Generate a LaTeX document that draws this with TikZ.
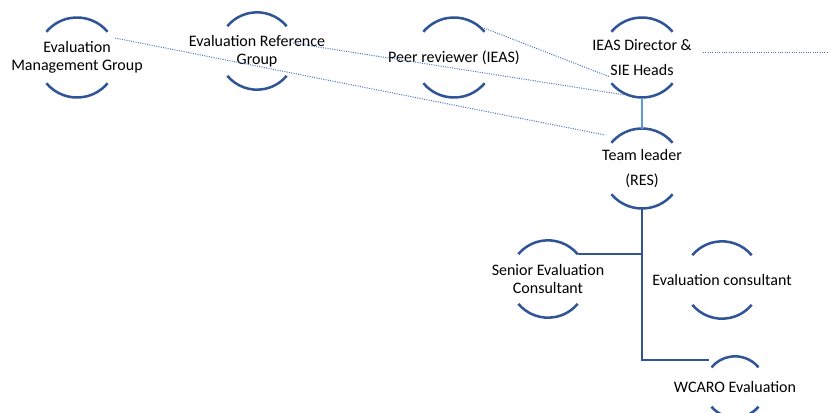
\documentclass[tikz,border=0pt]{standalone}
\usepackage{fontspec}
\setmainfont{Carlito}
\usepackage{xcolor}
\usetikzlibrary{positioning,calc}

\definecolor{arcblue}{HTML}{2F5597}
\definecolor{linkblue}{HTML}{5B9BD5}
\definecolor{dotblue}{HTML}{4472C4}

\tikzset{
    roletext/.style={align=center, font=\fontsize{12}{13.5}\selectfont, inner sep=0pt},
    roletall/.style={align=center, font=\fontsize{12}{18.5}\selectfont, inner sep=0pt},
    rolearc/.style={draw=arcblue, line width=1.9pt},
    treeline/.style={draw=arcblue, line width=1.9pt},
    dotlink/.style={draw=dotblue, line width=0.75pt, densely dotted},
}

\begin{document}
\begin{tikzpicture}[x=0.75pt, y=0.75pt]
    \useasboundingbox (0,0) rectangle (828,-412);

    % top row
    \node[roletext] (emg) at (77,-57.5) {Evaluation\\Management Group};
    \node[roletext] (erg) at (257,-51) {Evaluation Reference\\Group};
    \node[roletext] (peer) at (454,-57.5) {Peer reviewer (IEAS)};
    \node[roletall] (ieas) at (642,-57.5) {IEAS Director \&\\SIE Heads};
    \node[roletall] (tl) at (642,-168.5) {Team leader\\(RES)};

    % team
    \node[roletext] (sec) at (548,-279) {Senior Evaluation\\Consultant};
    \node[roletext] (ec) at (722,-280) {Evaluation consultant};
    \node[roletext] (wcaro) at (735,-387) {WCARO Evaluation};

    % arcs round each role
    \foreach \n/\r in {emg/30pt, erg/29pt, peer/30pt, ieas/30pt, tl/30pt, sec/29pt, ec/29pt, wcaro/23pt}
        \draw[rolearc] ([shift={(40:\r)}]\n.center) arc[start angle=40, end angle=140, radius=\r]
            ([shift={(220:\r)}]\n.center) arc[start angle=220, end angle=320, radius=\r];

    \draw[linkblue, line width=1.4pt] ([yshift=-30pt]ieas.center) -- ([yshift=30pt]tl.center);
    \draw[treeline] ([yshift=-30pt]tl.center) |- ([shift={(40:29pt)}]sec.center);
    \draw[treeline] ([yshift=-30pt]tl.center) |- ([shift={(-26,27)}]wcaro.center);

    % dotted links
    \coordinate (offpage) at (828,-52);
    \draw[dotlink] ([shift={(38,19.5)}]emg.center) -- ([shift={(-37,33.5)}]tl.center);
    \draw[dotlink] ([shift={(36,8)}]erg.center) -- ([shift={(-17,-37.5)}]ieas.center);
    \draw[dotlink] ([shift={(30,29.5)}]peer.center) -- ([shift={(-32,-19.5)}]ieas.center);
    \draw[dotlink] ([shift={(61,5.5)}]ieas.center) -- (offpage);
\end{tikzpicture}
\end{document}
